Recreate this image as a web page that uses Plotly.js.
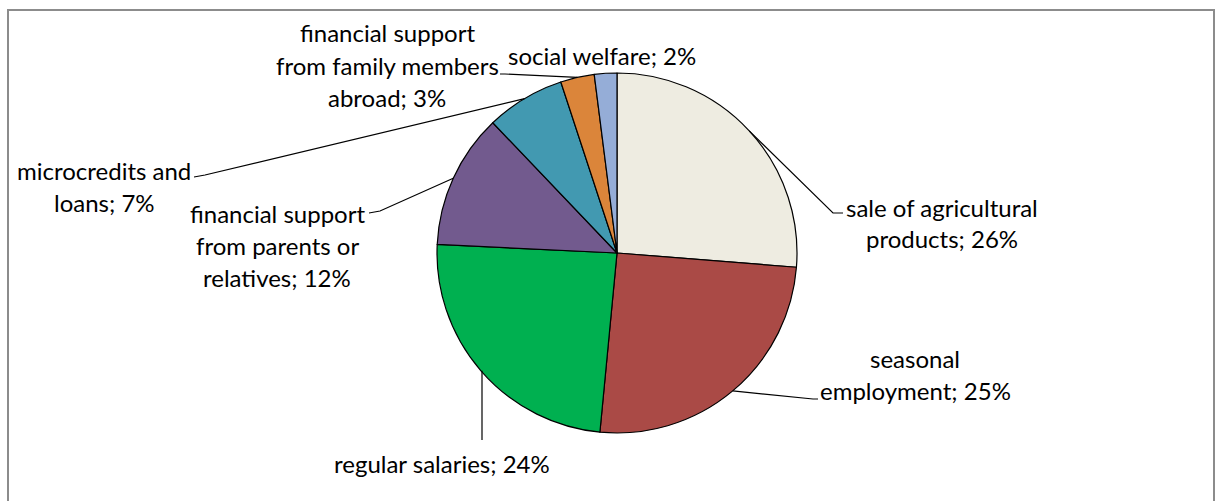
<!DOCTYPE html>
<html>
<head>
<meta charset="utf-8">
<script src="https://cdn.plot.ly/plotly-3.0.1.min.js"></script>
<style>html,body{margin:0;padding:0;background:#fff;}#chart{width:1218px;height:501px;}</style>
</head>
<body>
<div id="chart"></div>
<script>
// ---- data ----
const categories = [
  "sale of agricultural products",
  "seasonal employment",
  "regular salaries",
  "financial support from parents or relatives",
  "microcredits and loans",
  "financial support from family members abroad",
  "social welfare"
];
const values = [26, 25, 24, 12, 7, 3, 2];
const labelLines = [
  ["sale of agricultural", "products; 26%"],
  ["seasonal", "employment; 25%"],
  ["regular salaries; 24%"],
  ["financial support", "from parents or", "relatives; 12%"],
  ["microcredits and", "loans; 7%"],
  ["financial support", "from family members", "abroad; 3%"],
  ["social welfare; 2%"]
];
const colors = ["#EEECE1", "#AA4A46", "#00B050", "#725A8E", "#4299B1", "#DB853A", "#95ADD7"];

// ---- layout constants (pixels) ----
const W = 1218, H = 501;
const CX = 617, CY = 253, R = 180;
// label block centers and leader elbow/end points
const labelPos = [
  {x: 942, y: 223, leader: [[833, 213], [843, 213]]},
  {x: 915, y: 374, leader: [[813, 399], [818, 399]]},
  {x: 442, y: 463, leader: [[482, 440]], vertical: true},
  {x: 277, y: 245, leader: [[380, 211], [369, 213]]},
  {x: 104, y: 186, leader: [[205, 175], [194, 177]]},
  {x: 387, y: 65,  leader: [[505, 74], [500, 74]]},
  {x: 602, y: 56,  leader: null}
];
const LINE_GAP = 32;
const FONT = {family: "Lato, 'Open Sans', sans-serif", size: 24, color: "#000"};

const px = x => x / W;
const py = y => 1 - y / H;

const total = values.reduce((a, b) => a + b, 0);
let cum = 0;
const annotations = [];
const shapes = [];
values.forEach((v, i) => {
  const mid = (cum + v / 2) / total * 2 * Math.PI;
  cum += v;
  let ex = CX + R * Math.sin(mid);
  const ey = CY - R * Math.cos(mid);
  const lp = labelPos[i];
  const lines = labelLines[i];
  lines.forEach((t, k) => {
    annotations.push({
      x: px(lp.x), y: py(lp.y + (k - (lines.length - 1) / 2) * LINE_GAP),
      xref: "paper", yref: "paper", text: t, showarrow: false,
      xanchor: "center", yanchor: "middle", font: FONT
    });
  });
  if (lp.leader) {
    if (lp.vertical) ex = lp.leader[0][0];
    let path = `M ${px(ex)} ${py(ey)}`;
    lp.leader.forEach(p => { path += ` L ${px(p[0])} ${py(p[1])}`; });
    shapes.push({type: "path", xref: "paper", yref: "paper", path: path,
      line: {color: "#000", width: 1.2}});
  }
});

// chart frame
shapes.push({type: "rect", xref: "paper", yref: "paper",
  x0: px(8), x1: px(1214), y0: py(510), y1: py(10),
  line: {color: "#8c8c8c", width: 2}});

const trace = {
  type: "pie",
  labels: categories,
  values: values,
  sort: false,
  direction: "clockwise",
  rotation: 0,
  marker: {colors: colors, line: {color: "#000", width: 1.2}},
  textinfo: "none",
  hoverinfo: "label+percent",
  showlegend: false,
  domain: {x: [px(CX - R), px(CX + R)], y: [py(CY + R), py(CY - R)]}
};

Plotly.newPlot("chart", [trace], {
  width: W, height: H,
  margin: {l: 0, r: 0, t: 0, b: 0},
  paper_bgcolor: "#fff",
  showlegend: false,
  annotations: annotations,
  shapes: shapes
}, {displayModeBar: false, staticPlot: true});
</script>
</body>
</html>
